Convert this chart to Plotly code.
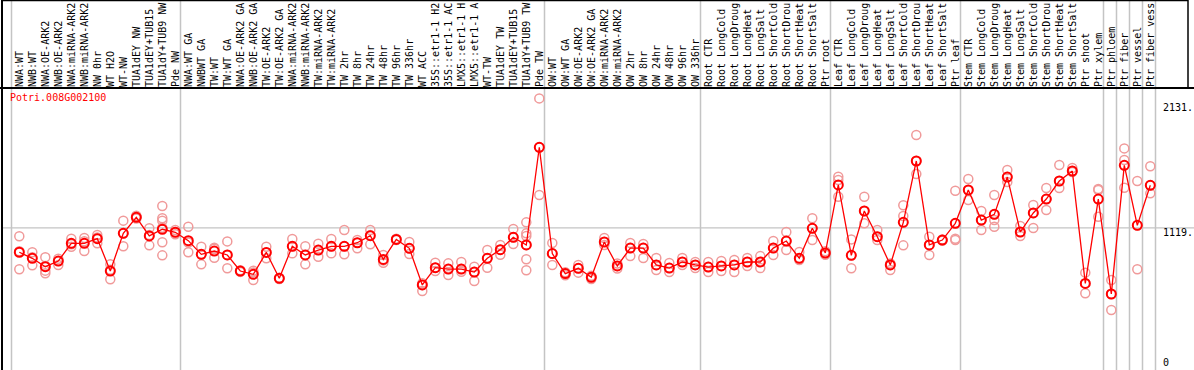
import plotly.graph_objects as go

gene = "Potri.008G002100"

categories = [
    "NWA:WT", "NWB:WT", "NWA:OE-ARK2", "NWB:OE-ARK2", "NWA:miRNA-ARK2", "NWB:miRNA-ARK2",
    "NW 0hr", "WT H2O", "WT-NW", "TUA1dEY NW", "TUA1dEY+TUB15", "TUA1dY+TUB9 NW", "Pde NW",
    "NWA:WT GA", "NWBWT GA", "TW:WT", "TW:WT GA", "NWA:OE-ARK2 GA", "NWB:OE-ARK2 GA",
    "TW:OE-ARK2", "TW:OE-ARK2 GA", "NWA:miRNA-ARK2", "NWB:miRNA-ARK2", "TW:miRNA-ARK2",
    "TW:miRNA-ARK2", "TW 2hr", "TW 8hr", "TW 24hr", "TW 48hr", "TW 96hr", "TW 336hr",
    "WT ACC", "35S::etr1-1 H2", "35S::etr1-1 AC", "LMX5::etr1-1 H", "LMX5::etr1-1 A",
    "WT-TW", "TUA1dEY TW", "TUA1dEY+TUB15", "TUA1dY+TUB9 TW", "Pde TW",
    "OW:WT", "OW:WT GA", "OW:OE-ARK2", "OW:OE-ARK2 GA", "OW:miRNA-ARK2", "OW:miRNA-ARK2",
    "OW 2hr", "OW 8hr", "OW 24hr", "OW 48hr", "OW 96hr", "OW 336hr",
    "Root CTR", "Root LongCold", "Root LongDroug", "Root LongHeat", "Root LongSalt",
    "Root ShortCold", "Root ShortDrou", "Root ShortHeat", "Root ShortSalt", "Ptr root",
    "Leaf CTR", "Leaf LongCold", "Leaf LongDroug", "Leaf LongHeat", "Leaf LongSalt",
    "Leaf ShortCold", "Leaf ShortDrou", "Leaf ShortHeat", "Leaf ShortSalt", "Ptr leaf",
    "Stem CTR", "Stem LongCold", "Stem LongDroug", "Stem LongHeat", "Stem LongSalt",
    "Stem ShortCold", "Stem ShortDrou", "Stem ShortHeat", "Stem ShortSalt",
    "Ptr shoot", "Ptr xylem", "Ptr phloem", "Ptr fiber", "Ptr vessel", "Ptr fiber vess",
]

means = [
    921, 872, 804, 850, 993, 993, 1031, 769, 1074, 1204, 1053, 1107, 1083,
    1015, 904, 931, 899, 769, 742, 920, 710, 969, 899, 939, 969, 969, 998, 1055, 863, 1025, 953,
    656, 796, 785, 785, 761, 872, 942, 1042, 980, 1771,
    910, 748, 791, 718, 1004, 810, 955, 955, 818, 793, 842, 818,
    801, 810, 818, 842, 842, 955, 1012, 872, 1115, 915,
    1466, 896, 1255, 1047, 818, 1163, 1660, 980, 1020, 1155,
    1425, 1182, 1228, 1530, 1085, 1239, 1352, 1498, 1579,
    669, 1352, 583, 1625, 1139, 1463,
]

replicates = [
    [1050, 930, 783], [921, 880, 815], [880, 772, 751, 810], [869, 850, 818],
    [1031, 985, 966], [1036, 1010, 931], [1061, 1040, 993], [823, 780, 702],
    [1177, 1075, 969], [1217, 1210, 1195], [1115, 1060, 977],
    [1296, 1196, 1177, 1002, 896, 1120], [1101, 1083, 1066],
    [1128, 1000, 921], [966, 904, 823], [958, 950, 877], [1009, 899, 791],
    [775, 769, 762], [772, 758, 696], [966, 920, 872], [715, 710, 705],
    [1028, 969, 912], [969, 899, 823], [990, 939, 885], [1028, 969, 912],
    [1101, 969, 904], [1020, 998, 953], [1101, 1060, 985], [899, 855, 836],
    [1030, 1025, 1020], [1004, 953, 907],
    [670, 656, 607], [836, 796, 769], [831, 785, 737], [842, 785, 763],
    [804, 761, 688], [939, 872, 796], [980, 942, 900], [1109, 1042, 988],
    [1163, 1074, 1053, 980, 864, 775], [2167, 1771, 1385],
    [996, 910, 818], [760, 748, 735], [818, 791, 756], [730, 718, 705],
    [1036, 1004, 980], [830, 810, 790], [996, 955, 890], [988, 955, 874],
    [874, 818, 777], [834, 793, 761], [874, 842, 818], [842, 818, 793],
    [842, 801, 761], [850, 810, 769], [858, 818, 761], [874, 842, 810],
    [890, 842, 793], [1012, 955, 899], [1085, 1012, 939], [923, 872, 858],
    [1196, 1115, 1020], [930, 915, 900],
    [1533, 1506, 1371], [1025, 896, 791], [1371, 1255, 1155], [1101, 1047, 1020],
    [830, 818, 777], [1301, 1215, 977], [1870, 1660, 1555], [1047, 980, 899],
    [1025, 1020, 1015], [1419, 1155, 1020, 1030],
    [1514, 1425, 1344], [1255, 1182, 1101], [1385, 1228, 1182, 1128],
    [1587, 1530, 1490], [1133, 1085, 1052], [1304, 1239, 1117], [1441, 1352, 1263],
    [1627, 1498, 1441], [1603, 1579, 1570],
    [756, 669, 589], [1433, 1425, 1209], [696, 583, 453],
    [1762, 1668, 1444], [1498, 1139, 783], [1617, 1463, 1398],
]

group_starts = [0, 13, 41, 53, 63, 73, 84, 85, 86, 87, 88]
grid_value = 1119
ytick_vals = [0, 1119, 2131]
ytick_text = ["0", "1119.", "2131."]

W, H = 1194, 370
ML, MT = 2, 88
x0_px, step_px = 19.3, 13.0
xr = [(ML - x0_px) / step_px, (W - x0_px) / step_px]
plot_h = H - MT
top_paper = 1 + MT / plot_h


def xpaper(v):
    return (v - xr[0]) / (xr[1] - xr[0])


def xpx(px):
    return (px - ML) / (W - ML)


rep_x, rep_y = [], []
for i, reps in enumerate(replicates):
    for r in reps:
        rep_x.append(i)
        rep_y.append(r)

fig = go.Figure()
fig.add_trace(go.Scatter(
    x=rep_x, y=rep_y, mode="markers", showlegend=False, hoverinfo="skip",
    marker=dict(symbol="circle-open", size=9, color="#F09A9A", line=dict(width=1.5, color="#F09A9A")),
))
fig.add_trace(go.Scatter(
    x=list(range(len(categories))), y=means, mode="lines+markers", showlegend=False,
    line=dict(color="#FF0000", width=1.3),
    marker=dict(symbol="circle-open", size=9, color="#FF0000", line=dict(width=2, color="#FF0000")),
))

shapes = []
for b in group_starts:
    xp = xpaper(b - 0.6)
    shapes.append(dict(type="line", xref="paper", yref="paper", x0=xp, x1=xp, y0=0, y1=top_paper,
                       line=dict(color="#C4C4C4", width=1.5), layer="below"))
shapes.append(dict(type="line", xref="paper", yref="y", x0=0, x1=1, y0=grid_value, y1=grid_value,
                   line=dict(color="#C4C4C4", width=1.2), layer="below"))
# header frame
shapes.append(dict(type="line", xref="paper", yref="paper", x0=-ML / (W - ML), x1=1, y0=1, y1=1,
                   line=dict(color="black", width=2)))
shapes.append(dict(type="line", xref="paper", yref="paper", x0=0, x1=0, y0=0, y1=top_paper,
                   line=dict(color="black", width=2)))
shapes.append(dict(type="line", xref="paper", yref="paper", x0=0, x1=xpx(1188),
                   y0=top_paper - 0.5 / plot_h, y1=top_paper - 0.5 / plot_h,
                   line=dict(color="black", width=1.5)))
shapes.append(dict(type="line", xref="paper", yref="paper", x0=xpx(1188), x1=xpx(1188),
                   y0=1, y1=top_paper, line=dict(color="black", width=1.5)))

annotations = [dict(text=gene, xref="paper", yref="paper", x=xpx(9), y=1 - 3 / plot_h,
                    xanchor="left", yanchor="top", showarrow=False, borderpad=0,
                    font=dict(family="DejaVu Sans Mono", size=10, color="#FF0000"))]
for v, t in zip(ytick_vals, ytick_text):
    annotations.append(dict(
        text=t, xref="paper", yref="y", x=xpx(1162), y=v,
        xanchor="left", yanchor="top" if v > 0 else "bottom", yshift=2 if v > 0 else -3,
        showarrow=False, borderpad=0,
        font=dict(family="DejaVu Sans Mono", size=10, color="black"),
    ))

fig.update_layout(
    width=W, height=H,
    margin=dict(l=ML, r=0, t=MT, b=0, pad=0),
    paper_bgcolor="white", plot_bgcolor="white",
    font=dict(family="DejaVu Sans Mono", size=10, color="black"),
    shapes=shapes,
    annotations=annotations,
    xaxis=dict(
        range=xr, side="top", tickmode="array", tickvals=list(range(len(categories))),
        ticktext=categories, tickangle=-90, showgrid=False, zeroline=False, showline=False,
        ticks="", automargin=False, tickfont=dict(family="DejaVu Sans Mono", size=10, color="black"),
        ticklabelstandoff=0,
    ),
    yaxis=dict(
        range=[(366 - H) / 0.1235, (366 - MT) / 0.1235],
        showticklabels=False, showgrid=False, zeroline=False, showline=False, ticks="",
        automargin=False,
    ),
)

fig.write_html("out.html", config={"displayModeBar": False},
               post_script="document.body.style.margin='0px';")
